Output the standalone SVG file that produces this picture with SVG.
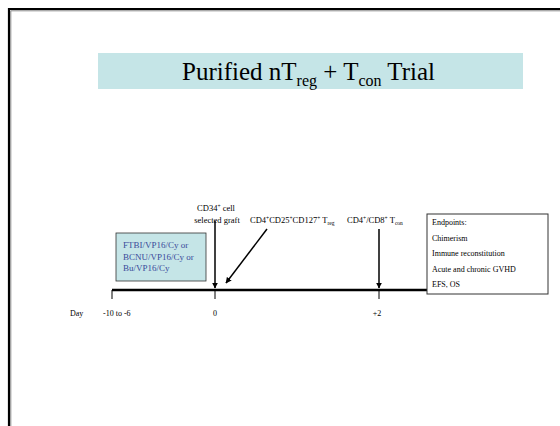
<svg xmlns="http://www.w3.org/2000/svg" width="560" height="426" viewBox="0 0 560 426">
<defs>
<marker id="ah" viewBox="0 0 10 10" refX="9" refY="5" markerWidth="6" markerHeight="6" markerUnits="userSpaceOnUse" orient="auto">
<path d="M0,0 L10,5 L0,10 z" fill="#000"/>
</marker>
<style>
.t{font-family:"Liberation Serif","Times New Roman",serif;fill:#000}
.s{font-size:8.5px}
.b{font-family:"Liberation Serif","Times New Roman",serif;font-size:9px;fill:#3a4a9a}
</style>
</defs>
<rect width="560" height="426" fill="#fff"/>
<g id="frame">
<path d="M9,426 V9 H560" fill="none" stroke="#000" stroke-width="2.2"/>
<path d="M10.8,426 V10.8 H560" fill="none" stroke="#888" stroke-width="1"/>
</g>
<g id="title">
<rect x="98" y="53" width="425" height="36" fill="#c5e5e7"/>
<text class="t" x="182" y="80" font-size="25">Purified nT<tspan font-size="16" dy="6">reg</tspan><tspan dy="-6"> + T</tspan><tspan font-size="16" dy="6">con</tspan><tspan dy="-6"> Trial</tspan></text>
</g>
<g id="conditioning">
<rect x="116" y="233" width="90" height="48" fill="#c5e5e7" stroke="#333" stroke-width="0.8"/>
<text class="b" x="123" y="248">FTBI/VP16/Cy or</text>
<text class="b" x="123" y="260">BCNU/VP16/Cy or</text>
<text class="b" x="123" y="271">Bu/VP16/Cy</text>
</g>
<g id="connectors" stroke="#000" fill="none">
<line x1="112" y1="290" x2="427" y2="290" stroke-width="2.5"/>
<line x1="112" y1="290" x2="112" y2="299" stroke-width="1"/>
<line x1="215" y1="290" x2="215" y2="299" stroke-width="1"/>
<line x1="379" y1="290" x2="379" y2="299" stroke-width="1"/>
<line x1="215" y1="221" x2="215" y2="288" stroke-width="1.5" marker-end="url(#ah)"/>
<line x1="267" y1="229" x2="226" y2="283" stroke-width="1.5" marker-end="url(#ah)"/>
<line x1="379" y1="229" x2="379" y2="288" stroke-width="1.5" marker-end="url(#ah)"/>
</g>
<g id="graft">
<text class="t s" x="216" y="211" text-anchor="middle">CD34<tspan font-size="5.5" dy="-3">+</tspan><tspan dy="3"> cell</tspan></text>
<text class="t s" x="217" y="223" text-anchor="middle">selected graft</text>
</g>
<g id="treg">
<text class="t s" x="250" y="223">CD4<tspan font-size="5.5" dy="-3">+</tspan><tspan dy="3">CD25</tspan><tspan font-size="5.5" dy="-3">+</tspan><tspan dy="3">CD127</tspan><tspan font-size="5.5" dy="-3">+</tspan><tspan dy="3"> T</tspan><tspan font-size="5.5" dy="2">reg</tspan></text>
</g>
<g id="tcon">
<text class="t s" x="347" y="223">CD4<tspan font-size="5.5" dy="-3">+</tspan><tspan dy="3">/CD8</tspan><tspan font-size="5.5" dy="-3">+</tspan><tspan dy="3"> T</tspan><tspan font-size="5.5" dy="2">con</tspan></text>
</g>
<g id="endpoints">
<rect x="427" y="214" width="121" height="80" fill="#fff" stroke="#333" stroke-width="1"/>
<text class="t" font-size="8" x="432" y="225">Endpoints:</text>
<text class="t" font-size="8" x="432" y="241">Chimerism</text>
<text class="t" font-size="8" x="432" y="256">Immune reconstitution</text>
<text class="t" font-size="8" x="432" y="272">Acute and chronic GVHD</text>
<text class="t" font-size="8" x="432" y="287">EFS, OS</text>
</g>
<g id="axis-labels">
<text class="t" font-size="8" x="70" y="316">Day</text>
<text class="t" font-size="8" x="103" y="316">-10 to -6</text>
<text class="t" font-size="8" x="215" y="316" text-anchor="middle">0</text>
<text class="t" font-size="8" x="377" y="316" text-anchor="middle">+2</text>
</g>
</svg>
